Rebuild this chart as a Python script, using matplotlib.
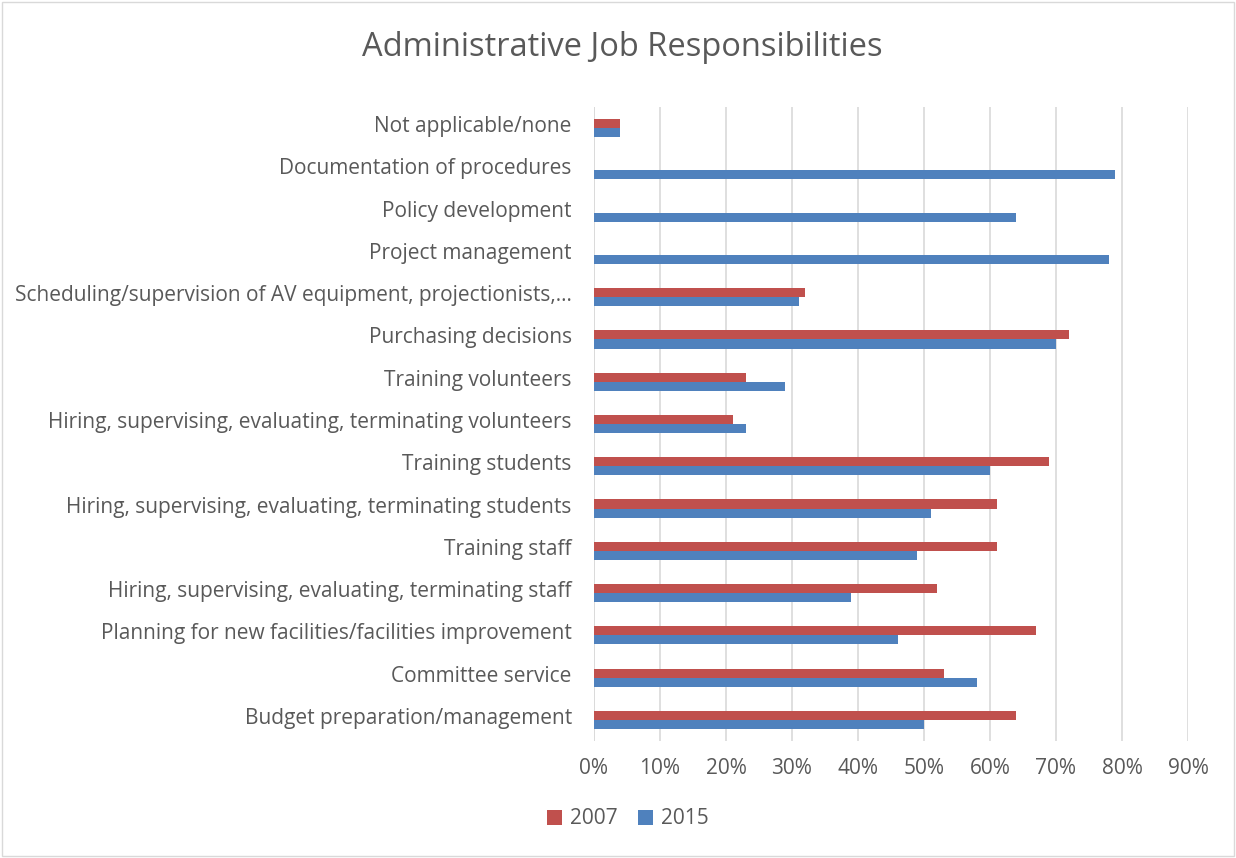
import matplotlib
matplotlib.use("Agg")
import matplotlib.pyplot as plt
import matplotlib.transforms as mtransforms
import numpy as np
from matplotlib.patches import Rectangle
from matplotlib.ticker import PercentFormatter

# Categories top to bottom as they appear on the chart
categories = [
    "Not applicable/none",
    "Documentation of procedures",
    "Policy development",
    "Project management",
    "Scheduling/supervision of AV equipment, projectionists,\u2026",
    "Purchasing decisions",
    "Training volunteers",
    "Hiring, supervising, evaluating, terminating volunteers",
    "Training students",
    "Hiring, supervising, evaluating, terminating students",
    "Training staff",
    "Hiring, supervising, evaluating, terminating staff",
    "Planning for new facilities/facilities improvement",
    "Committee service",
    "Budget preparation/management",
]
pct_2007 = [4, 0, 0, 0, 32, 72, 23, 21, 69, 61, 61, 52, 67, 53, 64]
pct_2015 = [4, 79, 64, 78, 31, 70, 29, 23, 60, 51, 49, 39, 46, 58, 50]
x_ticks = [0, 10, 20, 30, 40, 50, 60, 70, 80, 90]

RED = "#C0504D"
BLUE = "#4F81BD"
TEXT = "#595959"
FONT = ["Open Sans", "DejaVu Sans"]

plt.rcParams["font.family"] = FONT

fig = plt.figure(figsize=(12.36, 8.58), dpi=100)
fig.patches.append(Rectangle((0.002, 0.002), 0.996, 0.996, transform=fig.transFigure,
                             fill=False, edgecolor="#d9d9d9", linewidth=1))

ax = fig.add_axes([594 / 1236, 1 - 741 / 858, (1188 - 594) / 1236, (741 - 107) / 858])

n = len(categories)
y = np.arange(n)[::-1]  # first category at the top
h = 0.215
ax.barh(y + h / 2, pct_2007, height=h, color=RED, label="2007", zorder=3)
ax.barh(y - h / 2, pct_2015, height=h, color=BLUE, label="2015", zorder=3)

ax.set_xlim(0, 90)
ax.set_ylim(-0.5, n - 0.5)
ax.set_xticks(x_ticks)
ax.xaxis.set_major_formatter(PercentFormatter(decimals=0))
ax.set_yticks(y)
ax.set_yticklabels(categories)
ax.tick_params(axis="both", length=0, labelsize=15, labelcolor=TEXT)
ax.tick_params(axis="x", pad=12)
ax.tick_params(axis="y", pad=16)
# category labels sit slightly above the bar pair
lift = mtransforms.ScaledTranslation(0, 4 / 100, fig.dpi_scale_trans)
for lbl in ax.get_yticklabels():
    lbl.set_transform(lbl.get_transform() + lift)
ax.xaxis.grid(True, color="#d9d9d9", linewidth=1.2, zorder=0)
ax.set_axisbelow(True)
for s in ax.spines.values():
    s.set_visible(False)
ax.axvline(0, color="#d9d9d9", linewidth=1.2, zorder=1)

fig.text(622 / 1236, 1 - 48 / 858, "Administrative Job Responsibilities",
         ha="center", va="center", fontsize=23.5, color=TEXT)

leg = fig.legend(loc="center", bbox_to_anchor=(628 / 1236, 1 - 819 / 858), ncol=2,
                 frameon=False, fontsize=15, handlelength=0.7, handleheight=0.7,
                 handletextpad=0.4, columnspacing=1.0)
for t in leg.get_texts():
    t.set_color(TEXT)

fig.savefig("out.png", dpi=100)
